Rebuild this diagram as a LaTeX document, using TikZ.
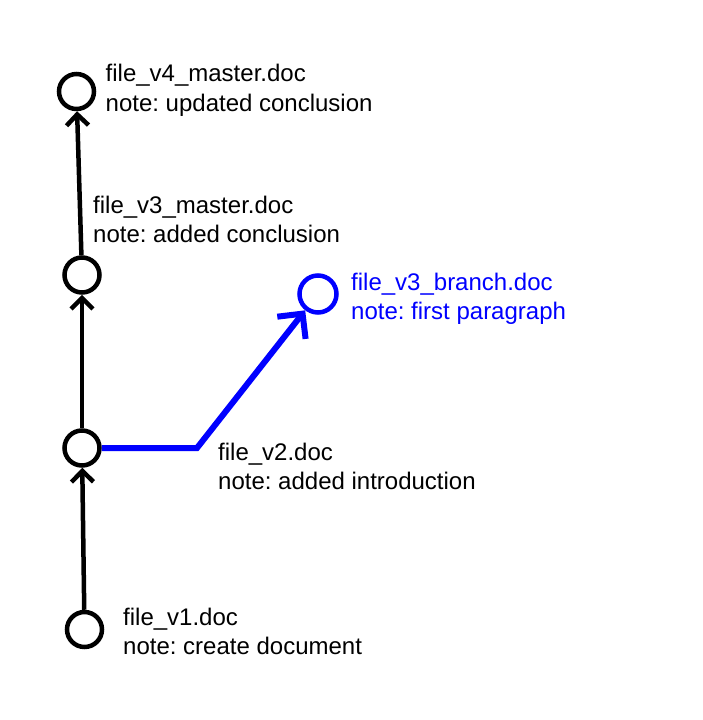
\documentclass[tikz,border=0pt]{standalone}
\usepackage{fontspec}
\setmainfont{Liberation Sans}
\usetikzlibrary{arrows.meta}
\definecolor{branchblue}{RGB}{0,0,255}
\tikzset{
  commit/.style={circle,draw,line width=4.5pt,minimum size=35pt,inner sep=0pt},
  msg/.style={anchor=base west,align=left,inner sep=0pt,font=\fontsize{24}{29.5}\selectfont\frenchspacing},
  link/.style={line width=4.5pt,-{Straight Barb[length=11pt,width=22pt]}}
}

\begin{document}
\begin{tikzpicture}[x=1pt,y=-1pt]
        \useasboundingbox (0,0) rectangle (702,720);
        \node[commit] (v1) at (84.5,629.5) {};
        \node[commit] (v2) at (82,448) {};
        \node[commit] (v3) at (82,275) {};
        \node[commit] (v4) at (76.5,91.5) {};
        \node[commit,draw=branchblue,minimum size=37pt] (b3) at (318,294) {};
        \coordinate (bend) at (197,448);
        % base west sits on the second line
        \node[msg] (m1) at (123,654.5) {file\_v1.doc\\note: create document};
        \node[msg] (m2) at (218,489.5) {file\_v2.doc\\note: added introduction};
        \node[msg] (m3) at (93,242.5) {file\_v3\_master.doc\\note: added conclusion};
        \node[msg] (m4) at (105.5,111) {file\_v4\_master.doc\\note: updated conclusion};
        \node[msg,color=branchblue] (mb) at (351,319.5) {file\_v3\_branch.doc\\note: first paragraph};
        \draw[link] (v1) -- (v2);
        \draw[link] (v2) -- (v3);
        \draw[link] (v3) -- (v4);
        \draw[branchblue,line width=6pt,-{Straight Barb[length=18pt,width=36pt]}] (v2.east) -- (bend) -- (b3);
      \end{tikzpicture}
\end{document}
